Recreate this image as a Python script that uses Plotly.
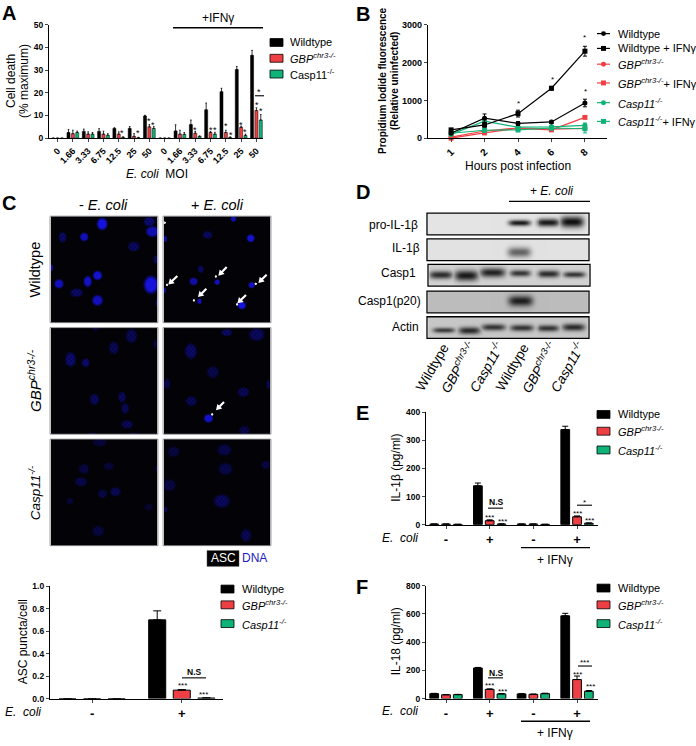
import numpy as np
import plotly.graph_objects as go

W, H = 696, 746
BLACK, RED, GREEN = "#000000", "#EE4044", "#0FB377"
FONT = "Liberation Sans"

# ---------- Panel A ----------
moi_labels = ["0","1.66","3.33","6.75","12.5","25","50"] * 2
a_wt  = [0,2.5,3,3,4.3,4.3,9.8, 0,3.2,6,12.5,20.5,30.3,36.5]
a_gbp = [0,2,1.8,1.8,1.8,0.8,5, 0,1.8,2.2,2.5,2.5,4.8,12.2]
a_c11 = [0,2.5,1.8,1.3,0.4,0.2,4.3, 0,1.7,0.8,1.8,0.4,1.2,8]
a_wt_e  = [0,1.3,1,1.2,0.3,0.8,0.3, 0,2.7,2,3,1.5,1.3,2.2]
a_gbp_e = [0,1.5,1,1.3,1,1.2,1, 0,1.7,0.8,0.5,1,0.5,1.2]
a_c11_e = [0,0.6,0.7,0.7,0.2,0.2,0.8, 0,0.8,0.2,0.8,0.1,0.6,2.4]

# ---------- Panel B ----------
hours = ["1","2","4","6","8"]
b_wt       = [130,530,390,430,930]
b_wt_ifn   = [220,350,650,1320,2300]
b_gbp      = [30,190,270,240,260]
b_gbp_ifn  = [0,140,260,220,550]
b_c11      = [100,450,290,300,340]
b_c11_ifn  = [130,210,220,270,250]
b_wt_e     = [20,110,50,40,100]
b_wt_ifn_e = [30,60,90,50,130]
b_gbp_e    = [20,30,30,30,30]
b_gbp_ifn_e= [10,20,30,30,30]
b_c11_e    = [20,90,40,40,60]
b_c11_ifn_e= [20,50,50,50,110]

# ---------- Panel C bar ----------
groups_ecoli = ["-","+"]
asc_wt, asc_wt_e   = [0,0.70], [0,0.08]
asc_gbp, asc_gbp_e = [0,0.075], [0,0.005]
asc_c11, asc_c11_e = [0,0.005], [0,0.002]

# ---------- Panels E / F ----------
groups_ifn = ["-","+","-","+"]
e_wt, e_wt_e   = [2,138,2,338], [0,10,0,12]
e_gbp, e_gbp_e = [2,14,2,28], [0,3,0,3]
e_c11, e_c11_e = [1,2,1,5], [0,1,0,1]
f_wt, f_wt_e   = [35,217,33,587], [2,4,2,18]
f_gbp, f_gbp_e = [27,65,30,135], [2,4,2,25]
f_c11, f_c11_e = [28,33,35,52], [2,3,3,5]

# ---------- Micrographs: nuclei (cx, cy, rx, ry, brightness) ----------
nuclei = {
 "wt_minus": [(305,127,15,17,1.0),(447,120,16,14,.6),(456,150,18,15,.8),(183,167,11,15,.55),(248,166,12,12,.85),
              (400,195,17,14,.5),(467,237,8,12,.5),(291,285,13,13,.95),(260,303,13,16,.9),(172,310,13,13,.85),
              (225,337,18,12,.55),(291,360,15,15,.85),(452,313,20,25,1),(472,367,6,12,.6),(150,262,4,10,.7)],
 "wt_plus":  [(700,112,8,8,.8),(622,160,14,11,.5),(752,170,11,11,.95),(492,172,5,9,.7),(600,266,10,11,.55),
              (577,303,12,11,.75),(651,305,8,8,.85),(755,314,9,9,.9),(596,363,8,8,.85),(725,375,12,11,1),(490,330,4,8,.7)],
 "gbp_minus":[(393,466,16,20,.45),(340,502,14,18,.45),(207,538,15,22,.6),(254,548,13,14,.6),(282,660,13,16,.5),
              (365,653,11,15,.5),(374,687,11,15,.45),(380,735,17,12,.45),(465,490,7,12,.3),(285,445,10,5,.3),
              (275,765,12,5,.4),(400,765,12,5,.4)],
 "gbp_plus": [(680,456,15,10,.55),(770,462,22,18,.5),(569,512,17,22,.55),(638,578,17,17,.4),(730,638,17,14,.45),
              (570,665,16,14,.45),(625,717,13,12,.9),(733,753,15,13,.4),(497,613,10,15,.4),(805,615,6,13,.4)],
 "c11_minus":[(298,790,20,12,.3),(248,870,16,14,.35),(325,862,15,11,.3),(238,912,18,13,.4),(306,948,13,12,.4),
              (345,942,15,13,.45),(205,970,10,10,.3),(445,988,12,10,.25),(293,1060,17,15,.35),(470,870,5,10,.3)],
 "c11_plus": [(517,818,17,15,.35),(673,813,20,16,.4),(676,870,20,17,.4),(797,858,13,12,.35),(505,922,18,17,.35),
              (665,970,23,19,.5),(738,1073,15,18,.45),(493,995,5,8,.5)],
}
puncta = {"wt_minus":[], "wt_plus":[(490,123),(647,288),(497,313),(578,360),(711,372),(767,310)],
          "gbp_minus":[], "gbp_plus":[(636,705)], "c11_minus":[], "c11_plus":[]}

# ---------- Western blots: bands (cx, cy, half width, half height, darkness) ----------
blots = {
 "pro":   [(450,122,33,9,.95),(538,121,35,12,.95),(610,119,36,17,1.0)],
 "il1b":  [(449,210,35,15,.6)],
 "casp1": [(212,283,35,12,.85),(290,285,37,16,.95),(370,276,38,14,.9),(453,278,31,10,.8),(540,280,34,11,.85),(618,282,33,9,.8)],
 "p20":   [(453,360,37,16,.92)],
 "actin": [(220,449,33,8,.75),(298,450,34,11,.85),(372,440,36,10,.8),(457,442,35,10,.8),(538,443,33,10,.8),(615,440,34,11,.85)],
}
blot_labels = ["pro-IL-1β","IL-1β","Casp1","Casp1(p20)","Actin"]
lane_labels = ["Wildtype","<i>GBP<sup>chr3-/-</sup></i>","<i>Casp11<sup>-/-</sup></i>"] * 2

# ---------- helpers ----------
fig = go.Figure()
layout, shapes, annos = {}, [], []
counter = [0]
def px(x): return x / W
def py(y): return 1 - y / H

def text(x, y, s, size=11, anchor="center", angle=0, color="black", bold=False):
    annos.append(dict(x=px(x), y=py(y), xref="paper", yref="paper", text=f"<b>{s}</b>" if bold else s,
                      showarrow=False, xanchor=anchor, yanchor="middle", textangle=angle,
                      font=dict(family=FONT, size=size, color=color), borderpad=0))
def star(x, y, s="*", size=9):
    text(x, y + 2, s, size=size)
def hline(x0, x1, y, width=1.3, color="black"):
    shapes.append(dict(type="line", xref="paper", yref="paper", x0=px(x0), x1=px(x1), y0=py(y), y1=py(y),
                       line=dict(color=color, width=width)))
def rect(x0, x1, y0, y1, fill, line="black", lw=0.8):
    shapes.append(dict(type="rect", xref="paper", yref="paper", x0=px(x0), x1=px(x1), y0=py(y0), y1=py(y1),
                       fillcolor=fill, line=dict(color=line, width=lw)))
def new_axes(xp, yp, xr, yr):
    counter[0] += 1
    n = counter[0]
    sx = "" if n == 1 else str(n)
    xa, ya = f"x{sx}", f"y{sx}"
    common = dict(showgrid=False, zeroline=False, fixedrange=True)
    layout[f"xaxis{sx}"] = dict(domain=[px(xp[0]), px(xp[1])], range=list(xr), anchor=ya, **common)
    layout[f"yaxis{sx}"] = dict(domain=[py(yp[1]), py(yp[0])], range=list(yr), anchor=xa, **common)
    return xa, ya, sx

def chart_axes(xp, yp, xr, yr, xt, xl, yt, xsize=9, ysize=8.5, tickangle=0, ytext=None):
    xa, ya, sx = new_axes(xp, yp, xr, yr)
    layout[f"xaxis{sx}"].update(showline=True, linecolor="black", linewidth=1.2, ticks="outside", ticklen=3,
        tickwidth=1.1, tickvals=xt, ticktext=xl, tickangle=tickangle, tickmode="array",
        tickfont=dict(family=FONT, size=xsize, color="black", weight=700))
    layout[f"yaxis{sx}"].update(showline=True, linecolor="black", linewidth=1.2, ticks="outside", ticklen=3,
        tickwidth=1.1, tickvals=yt, ticktext=ytext or [str(v) for v in yt], tickmode="array",
        tickfont=dict(family=FONT, size=ysize, color="black", weight=700))
    return xa, ya

def bars(xa, ya, xs, series, slot, w, lw=0.7, ew=1, ecap=1.5):
    for j, (name, vals, errs, col) in enumerate(series):
        fig.add_trace(go.Bar(x=xs, y=vals, xaxis=xa, yaxis=ya, name=name, showlegend=False, width=w,
            offset=(j-1)*slot - w/2, marker=dict(color=col, line=dict(color="black", width=lw)),
            error_y=dict(type="data", array=errs, arrayminus=[0]*len(errs), symmetric=False,
                         color="black", thickness=ew, width=ecap)))

GBP_I = "<i>GBP<sup>chr3-/-</sup></i>"
C11_I = "<i>Casp11<sup>-/-</sup></i>"
def bar_legend(xs, ys, xt, labels):
    for y, lab, col in zip(ys, labels, [BLACK, RED, GREEN]):
        rect(xs, xs+13, y-4, y+4, col)
        text(xt, y, lab, size=11, anchor="left")

def image_panel(xp, yp, arr):
    xa, ya, sx = new_axes(xp, yp, (-0.5, arr.shape[1]-0.5), (arr.shape[0]-0.5, -0.5))
    for k in (f"xaxis{sx}", f"yaxis{sx}"):
        layout[k].update(showticklabels=False, ticks="", showline=False)
    fig.add_trace(go.Image(z=arr, xaxis=xa, yaxis=ya, hoverinfo="skip"))

def arrow(tx, ty, fx, fy):
    """White arrow drawn as a filled path, tip at (tx,ty), tail at (fx,fy), in page pixels."""
    d = np.array([fx-tx, fy-ty], float); L = np.hypot(*d); u = d/L; n = np.array([-u[1], u[0]])
    tip = np.array([tx, ty], float)
    hl, hw, sw = 5.5, 3.4, 1.1
    tail = tip + u*L
    neck = tip + u*hl
    pts = [tip, neck+n*hw, neck+n*sw, tail+n*sw, tail-n*sw, neck-n*sw, neck-n*hw]
    path = "M" + " L".join(f"{px(p[0]):.5f},{py(p[1]):.5f}" for p in pts) + " Z"
    shapes.append(dict(type="path", xref="paper", yref="paper", path=path, fillcolor="white", line=dict(width=0, color="white")))

# ---------- A ----------
xa, ya = chart_axes((49,263), (20,135), (-0.56,13.43), (0,50), list(range(14)), moi_labels, [0,10,20,30,40,50],
                    xsize=9, ysize=8.5, tickangle=-45)
bars(xa, ya, list(range(14)), [("Wildtype",a_wt,a_wt_e,BLACK),("GBP",a_gbp,a_gbp_e,RED),("Casp11",a_c11,a_c11_e,GREEN)], 0.285, 0.2, lw=0.5, ew=0.8, ecap=0.8)
text(11, 77, "Cell death", size=12, angle=-90)
text(24, 77, "(% maximum)", size=12, angle=-90)
text(157, 171, "<i>E. coli</i>  MOI", size=12)
text(218, 13, "+IFNγ", size=12)
hline(173, 263, 23, width=1.5)
bar_legend(270, [38,54,70], 289, ["Wildtype", GBP_I, "Casp11<sup>-/-</sup>"])
for c in [(367,382),(415,382),(447,348),(460,358),(586,375),(632,375),(645,375),(677,363),(692,390),(724,358),(736,380),(771,298),(782,316),(778,260)]:
    star(c[0]/3, c[1]/3)
hline(255, 264, 92, width=1.1)

# ---------- B ----------
xa, ya = chart_axes((428,607), (20,135), (-0.69,4.66), (0,3000), list(range(5)), hours, [0,1000,2000,3000],
                    xsize=10, ysize=9, tickangle=-45)
b_series = [("GBP",b_gbp,b_gbp_e,RED,"circle"),("GBP+IFN",b_gbp_ifn,b_gbp_ifn_e,RED,"square"),
            ("Casp11",b_c11,b_c11_e,GREEN,"circle"),("Casp11+IFN",b_c11_ifn,b_c11_ifn_e,GREEN,"square"),
            ("Wildtype",b_wt,b_wt_e,BLACK,"circle"),("Wildtype+IFN",b_wt_ifn,b_wt_ifn_e,BLACK,"square")]
for name, v, e, col, sym in b_series:
    fig.add_trace(go.Scatter(x=list(range(5)), y=v, xaxis=xa, yaxis=ya, mode="lines+markers", name=name, showlegend=False,
        line=dict(color=col, width=1.2), marker=dict(color=col, symbol=sym, size=5),
        error_y=dict(type="data", array=e, color=col, thickness=1, width=2), cliponaxis=False))
text(383, 77, "Propidium Iodide fluorescence", size=10, angle=-90, bold=True)
text(395, 77, "(Relative uninfected)", size=10, angle=-90, bold=True)
text(518, 163, "Hours post infection", size=12)
for (x,y) in [(584,31),(552,74),(518,98),(585,86)]:
    star(x, y, size=8)
b_leg = [(29,"Wildtype",BLACK,"c"),(44,"Wildtype + IFNγ",BLACK,"s"),(60,GBP_I,RED,"c"),(79,GBP_I+"+ IFNγ",RED,"s"),
         (99,C11_I,GREEN,"c"),(118,C11_I+"+ IFNγ",GREEN,"s")]
for y, lab, col, kind in b_leg:
    hline(597, 610, y, width=1.2, color=col)
    if kind == "c":
        shapes.append(dict(type="circle", xref="paper", yref="paper", x0=px(601), x1=px(606), y0=py(y-2.5), y1=py(y+2.5),
                           fillcolor=col, line=dict(color=col, width=0)))
    else:
        rect(601, 606, y-2.5, y+2.5, col, line=col, lw=0)
    text(617, y, lab, size=11, anchor="left")

# ---------- C micrographs ----------
def render_cells(key, ox, oy, w=108, h=108):
    s = 325.0 / w
    yy, xx = np.mgrid[0:h, 0:w]
    X, Y = ox + (xx + 0.5) * s, oy + (yy + 0.5) * s
    b = np.zeros((h, w))
    for cx, cy, rx, ry, v in nuclei[key]:
        d = np.sqrt(((X-cx)/rx)**2 + ((Y-cy)/ry)**2)
        mask = np.clip((1.25 - d) / 0.55, 0, 1)
        tex = 0.75 + 0.25*np.sin(X*0.5 + cy)*np.sin(Y*0.45 + cx) if v < 0.7 else 1.0
        b = np.maximum(b, v * 0.9 * mask * tex)
    img = np.zeros((h, w, 3))
    img[...,0] = 2 + 22*b
    img[...,1] = 2 + 18*b
    img[...,2] = 7 + 235*b
    for (cx, cy) in puncta[key]:
        d = np.sqrt((X-cx)**2 + (Y-cy)**2)
        m = np.clip((4.5 - d)/2, 0, 1)[..., None]
        img = img*(1-m) + 235*m
    return np.clip(img, 0, 255).astype(np.uint8)

cell_layout = [("wt_minus",148,103,50,214),("wt_plus",488,103,163,214),
               ("gbp_minus",148,442,50,327),("gbp_plus",488,442,163,327),
               ("c11_minus",148,780,50,440),("c11_plus",488,780,163,440)]
for key, ox, oy, x0, y0 in cell_layout:
    image_panel((x0, x0+108), (y0, y0+108), render_cells(key, ox, oy))
    rect(x0, x0+108, y0, y0+108, "rgba(0,0,0,0)", line="#8a8a8a", lw=0.8)
for (tx,ty,fx,fy) in [(505,310,532,284),(655,283,680,257),(594,348,619,323),(775,305,800,280),(712,367,738,342),(648,692,672,667)]:
    arrow(tx/3, 180+ty/3, fx/3, 180+fy/3)
text(103, 203, "- <i>E. coli</i>", size=14.5)
text(217, 203, "+ <i>E. coli</i>", size=14.5)
text(35, 268, "Wildtype", size=14.5, angle=-90)
text(35, 381, GBP_I, size=15, angle=-90)
text(35, 495, C11_I, size=13.5, angle=-90)
rect(207, 239, 553, 569, "black", line="#555555", lw=0.5)
text(223, 561, "ASC", size=12, color="white")
text(241, 561, "DNA", size=12, color="#2020C0", anchor="left")

# ---------- C bar ----------
xa, ya = chart_axes((50,223), (589,703), (-0.47,1.46), (0,1), [0,1], groups_ecoli, [0,0.2,0.4,0.6,0.8,1],
                    xsize=13, ysize=8.5, ytext=["0.0","0.2","0.4","0.6","0.8","1.0"])
bars(xa, ya, [0,1], [("Wildtype",asc_wt,asc_wt_e,BLACK),("GBP",asc_gbp,asc_gbp_e,RED),("Casp11",asc_c11,asc_c11_e,GREEN)], 0.274, 0.19, lw=1, ew=1, ecap=4)
text(23, 646, "ASC puncta/cell", size=12, angle=-90)
text(4, 717, "<i>E.  coli</i>", size=12, anchor="left")
bar_legend(221, [592,608,627], 241, ["Wildtype", GBP_I, C11_I])
hline(182, 206, 682, width=1.1)
text(194, 676, "N.S", size=8.5, bold=True)
star(182, 688, "***", size=8); star(204, 697, "***", size=8)

# ---------- D blots ----------
def render_blot(key, cx0, cy0, w, h, bg):
    yy, xx = np.mgrid[0:h, 0:w]
    X, Y = cx0 + (xx + 0.5)*3, cy0 + (yy + 0.5)*3
    dark = np.zeros((h, w))
    for cx, cy, hw, hh, d in blots[key]:
        prof = np.exp(-((X-cx)/hw)**4) * np.exp(-((Y-cy)/hh)**2)
        dark = np.maximum(dark, d*prof)
    v = bg*(1 - dark) + 15*dark
    return np.repeat(v[..., None], 3, axis=2).astype(np.uint8)

blot_boxes = [("pro",172,92,427,211,162,22,228,223,419),("il1b",172,170,427,237,162,22,226,246,421),
              ("casp1",176,250,428,263,162,22,210,272,417),("p20",172,330,427,290,162,22,188,300,422),
              ("actin",172,409,427,316,162,22,200,326,420)]
for (key, cx0, cy0, x0, y0, w, h, bg, ly, lx), lab in zip(blot_boxes, blot_labels):
    image_panel((x0, x0+w), (y0, y0+h), render_blot(key, cx0, cy0, w, h, bg))
    rect(x0, x0+w, y0, y0+h, "rgba(0,0,0,0)", line="black", lw=1.3)
    text(lx, ly, lab, size=12, anchor="right")
text(551, 189, "+ <i>E. coli</i>", size=12)
hline(509, 590, 199, width=1.3)
for x, lab in zip([432,458,486,512,539,567], lane_labels):
    text(x, 367, lab, size=13.5, angle=-60)

# ---------- E / F ----------
def cyto(yp, yr, yt, series, ytitle, yc, leg_y, eline, ifn, coli):
    xa, ya = chart_axes((426,598), yp, (-0.458,3.48), yr, [0,1,2,3], groups_ifn, yt, xsize=13, ysize=8.5)
    bars(xa, ya, [0,1,2,3], series, 0.27, 0.2, lw=1, ew=1, ecap=3)
    text(396, yc, ytitle, size=12, angle=-90)
    text(381, coli, "<i>E.  coli</i>", size=12, anchor="left")
    hline(521, 590, eline, width=1.3)
    text(555, ifn, "+ IFNγ", size=12)
    bar_legend(597, leg_y, 617, ["Wildtype", GBP_I, C11_I])

cyto((412.7,526.7), (0,400), [0,100,200,300,400],
     [("Wildtype",e_wt,e_wt_e,BLACK),("GBP",e_gbp,e_gbp_e,RED),("Casp11",e_c11,e_c11_e,GREEN)],
     "IL-1β (pg/ml)", 469, [415,432,451], 550, 563, 540)
hline(488, 503, 510, width=1.1); text(496, 504, "N.S", size=8.5, bold=True)
star(490, 517, "***", size=8); star(502, 522, "***", size=8)
hline(577, 592, 507, width=1.1); star(584, 502, size=8)
star(577, 513, "***", size=8); star(589, 521, "***", size=8)

cyto((588.7,703), (0,800), [0,200,400,600,800],
     [("Wildtype",f_wt,f_wt_e,BLACK),("GBP",f_gbp,f_gbp_e,RED),("Casp11",f_c11,f_c11_e,GREEN)],
     "IL-18 (pg/ml)", 645, [591,608,627], 726, 738, 716)
hline(488, 503, 682, width=1.1); text(496, 677, "N.S", size=8.5, bold=True)
star(490, 688, "***", size=8); star(502, 694, "***", size=8)
hline(578, 592, 670, width=1.1); star(584, 664, "***", size=8)
star(577, 677, "***", size=8); star(590, 689, "***", size=8)

# ---------- Panel letters ----------
for (x, y, s) in [(1,8,"A"),(355,9,"B"),(1,201,"C"),(355,190,"D"),(355,414,"E"),(355,590,"F")]:
    text(x, y, s, size=20, anchor="left", bold=True)

fig.update_layout(width=W, height=H, margin=dict(l=0,r=0,t=0,b=0), paper_bgcolor="white", plot_bgcolor="rgba(0,0,0,0)",
                  barmode="overlay", showlegend=False, font=dict(family=FONT, color="black"),
                  shapes=shapes, annotations=annos, **layout)
fig.write_html("out.html", config=dict(displayModeBar=False),
               post_script="document.body.style.margin='0';document.body.style.overflow='hidden';")
